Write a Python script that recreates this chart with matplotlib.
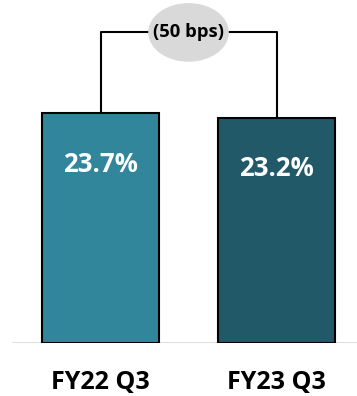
import matplotlib.pyplot as plt
from matplotlib.patches import Ellipse

periods = ['FY22 Q3', 'FY23 Q3']
margins = [23.7, 23.2]
value_labels = ['23.7%', '23.2%']
change_label = '(50 bps)'
bar_colors = ['#31869B', '#215968']

fig = plt.figure(figsize=(3.57, 3.96), dpi=100)
ax = fig.add_axes([12 / 357, 53 / 396, 345 / 357, 343 / 396])

x = range(len(periods))
ax.bar(x, margins, width=0.665, color=bar_colors, edgecolor='black', linewidth=1.5, zorder=2)

for xi, v, lab in zip(x, margins, value_labels):
    ax.text(xi, v * 0.775, lab, ha='center', va='center', color='white',
            fontsize=18.5, fontweight='bold', family='Open Sans')

# bracket between the two bars with the change bubble on top
top = 32.0
ax.plot([0, 0, 1, 1], [margins[0], top, top, margins[1]], color='black', lw=1.5, zorder=1)
ax.add_patch(Ellipse((0.5, top), 0.45, 5.9, color='#D9D9D9', zorder=3))
ax.text(0.5, top, change_label, ha='center', va='center', fontsize=13.3,
        fontweight='bold', family='Open Sans', zorder=4)

ax.axhline(0, color='#D9D9D9', lw=1.2, zorder=1)
ax.set_xlim(-0.503, 1.457)
ax.set_ylim(0, 35.34)
ax.set_xticks(list(x))
ax.set_xticklabels(periods, fontsize=18, fontweight='bold', family='Open Sans')
ax.tick_params(axis='x', length=0, pad=19.5)
ax.set_yticks([])
for s in ax.spines.values():
    s.set_visible(False)

fig.savefig('out.png', dpi=100)
